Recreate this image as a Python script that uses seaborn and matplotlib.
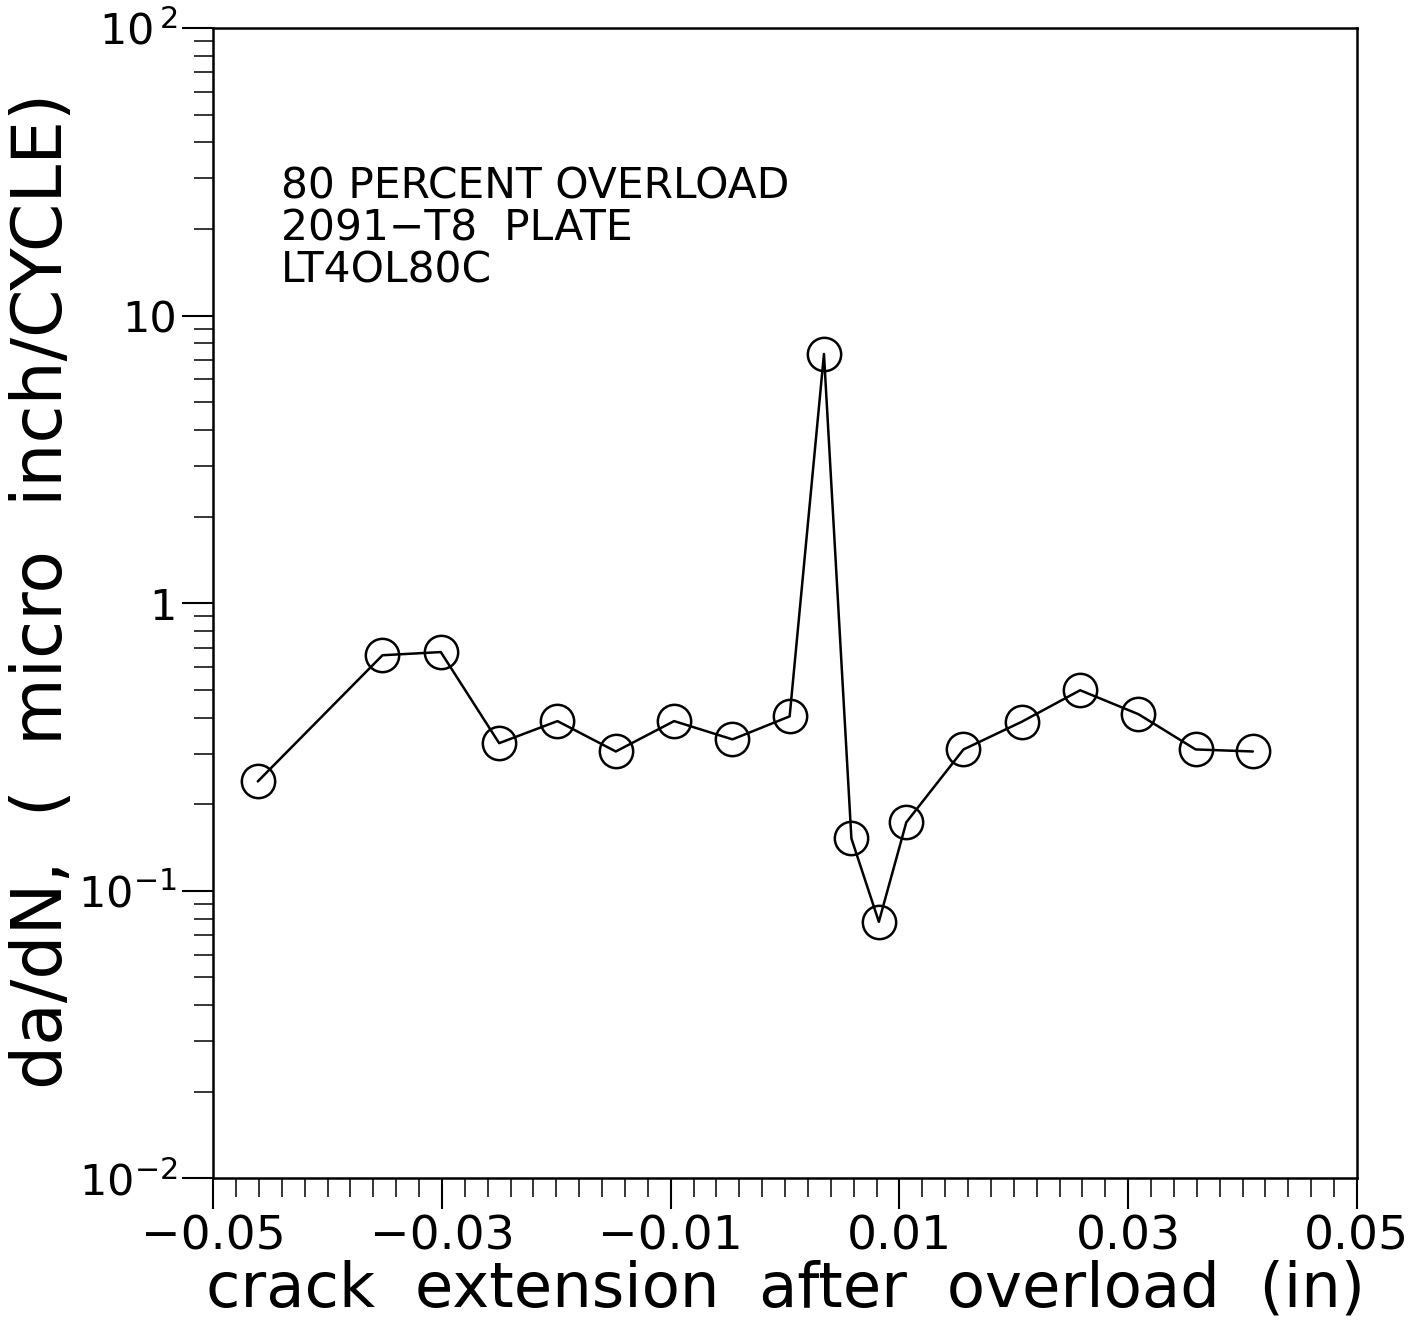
import matplotlib
matplotlib.use("Agg")
import matplotlib.pyplot as plt
import matplotlib.ticker as mticker
import numpy as np
import pandas as pd
import seaborn as sns

# Data
crack_ext = [-0.0461, -0.0352, -0.0301, -0.0250, -0.0199, -0.0148, -0.0097, -0.0046,
             0.0004, 0.0034, 0.0058, 0.0082, 0.0106, 0.0156, 0.0207, 0.0258, 0.0309,
             0.0359, 0.0409]
dadn = [0.240, 0.659, 0.676, 0.326, 0.389, 0.305, 0.389, 0.336,
        0.404, 7.35, 0.152, 0.078, 0.173, 0.310, 0.387, 0.498, 0.411,
        0.310, 0.305]
x_ticks = [-0.05, -0.03, -0.01, 0.01, 0.03, 0.05]
x_tick_labels = ["\u22120.05", "\u22120.03", "\u22120.01", "0.01", "0.03", "0.05"]
y_ticks = [0.01, 0.1, 1, 10, 100]
y_tick_labels = [r"$10^{-2}$", r"$10^{-1}$", "1", "10", r"$10^{\,2}$"]
annotation = "80 PERCENT OVERLOAD\n2091\u2212T8  PLATE\nLT4OL80C"

df = pd.DataFrame({"x": crack_ext, "y": dadn})

sns.set_style("ticks")
plt.rcParams["font.family"] = ["DejaVu Sans"]
plt.rcParams["mathtext.fontset"] = "dejavusans"
plt.rcParams["mathtext.default"] = "regular"
plt.rcParams["text.color"] = "black"
plt.rcParams["axes.labelcolor"] = "black"

fig = plt.figure(figsize=(14.12, 13.30), dpi=100)
ax = fig.add_axes([0.151, 0.114, 0.810, 0.865])

sns.lineplot(data=df, x="x", y="y", ax=ax, color="black", linewidth=1.8,
             marker="o", markersize=24, markerfacecolor="none",
             markeredgecolor="black", markeredgewidth=1.8, sort=False)

ax.set_yscale("log")
ax.set_xlim(-0.05, 0.05)
ax.set_ylim(0.01, 100)

ax.set_xticks(x_ticks)
ax.set_xticklabels(x_tick_labels)
ax.xaxis.set_minor_locator(mticker.MultipleLocator(0.002))
ax.set_yticks(y_ticks)
ax.set_yticklabels(y_tick_labels)
ax.yaxis.set_minor_locator(mticker.LogLocator(base=10, subs=np.arange(2, 10)))
ax.yaxis.set_minor_formatter(mticker.NullFormatter())

ax.tick_params(axis="both", which="major", direction="out", length=22, width=1.5,
               labelsize=34, colors="black")
ax.tick_params(axis="x", which="major", pad=4)
ax.tick_params(axis="y", which="major", pad=4, labelsize=31)
ax.tick_params(axis="both", which="minor", direction="out", length=14, width=1.3)

for s in ax.spines.values():
    s.set_visible(True)
    s.set_linewidth(1.8)
    s.set_color("black")

ax.set_xlabel("crack  extension  after  overload  (in)", fontsize=45, labelpad=0)
ax.set_ylabel("da/dN,  (  micro  inch/CYCLE)", fontsize=50)
ax.yaxis.set_label_coords(-0.149, 0.511)
ax.yaxis.label.set_verticalalignment("center")

ax.text(0.059, 0.88, annotation, transform=ax.transAxes, fontsize=30.5,
        va="top", ha="left", linespacing=1.0)

fig.savefig("out.png", dpi=100, facecolor="white")
